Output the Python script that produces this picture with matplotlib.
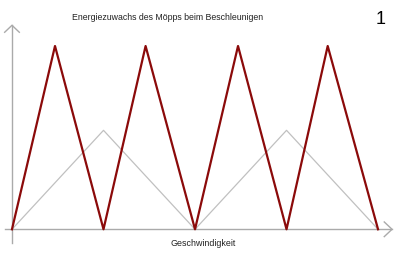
import matplotlib
matplotlib.use("Agg")
import matplotlib.pyplot as plt

# Geschwindigkeit (x) und Energiezuwachs (y)
red_x = [0, 0.47, 1, 1.46, 2, 2.47, 3, 3.45, 4]
red_y = [0, 1.0, 0, 1.0, 0, 1.0, 0, 1.0, 0]
gray_x = [0, 1, 2, 3, 4]
gray_y = [0, 0.54, 0, 0.54, 0]

title = "Energiezuwachs des Möpps beim Beschleunigen"
xlabel = "Geschwindigkeit"
number = "1"

plt.rcParams['font.family'] = ['Liberation Sans', 'DejaVu Sans']

fig = plt.figure(figsize=(4, 2.54), dpi=100)
ax = fig.add_axes([0, 0, 1, 1])
ax.set_xlim(-0.131, 4.240)
ax.set_ylim(-0.1348, 1.251)
ax.axis('off')

axis_col = '#aaaaaa'
# Achsen mit offenen Pfeilspitzen
ax.plot([-0.0765, 4.153], [0, 0], color=axis_col, lw=1)
ax.plot([4.153 - 0.085, 4.153, 4.153 - 0.085], [0.04, 0, -0.04], color=axis_col, lw=1)
ax.plot([0, 0], [-0.0747, 1.113], color=axis_col, lw=1)
ax.plot([-0.08, 0, 0.08], [1.113 - 0.038, 1.113, 1.113 - 0.038], color=axis_col, lw=1)

ax.plot(gray_x, gray_y, color='#c0c0c0', lw=0.9)
ax.plot(red_x, red_y, color='#8b0a0a', lw=1.6)

fig.text(168 / 400, 1 - 18 / 254, title, ha='center', va='center', fontsize=6.3, color='#222222')
fig.text(381 / 400, 1 - 20 / 254, number, ha='center', va='center', fontsize=13, color='black')
fig.text(203 / 400, 1 - 243 / 254, xlabel, ha='center', va='center', fontsize=6.4, color='#222222')

fig.savefig('out.png', dpi=100)
